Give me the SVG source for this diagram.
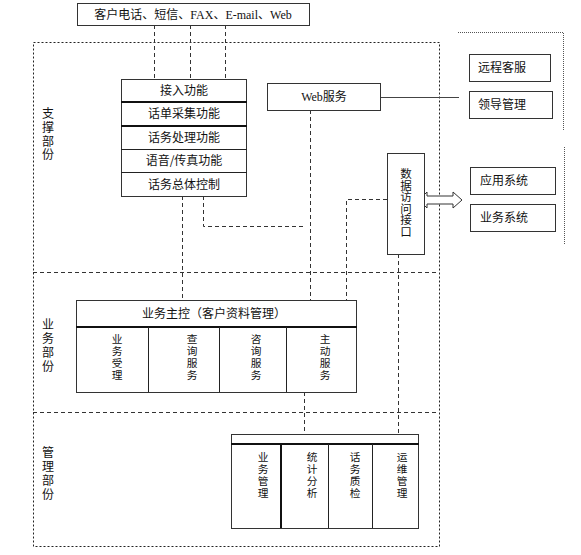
<svg xmlns="http://www.w3.org/2000/svg" width="581" height="555" viewBox="0 0 581 555">
<style>
text{font-family:"Noto Sans CJK SC","Liberation Sans",sans-serif;font-size:12px;fill:#111}
.s{font-family:"Liberation Serif","Noto Sans CJK SC",serif}
.c{text-anchor:middle}
.k{font-family:"Liberation Sans","Noto Sans CJK SC",sans-serif;text-anchor:middle}
.k2{font-family:"Liberation Sans","Noto Sans CJK SC",sans-serif;text-anchor:middle;font-size:11.5px}
.kc{font-family:"Liberation Sans","Noto Sans CJK SC",sans-serif;text-anchor:middle;font-size:10.7px}
.box{fill:#fff;stroke:#333;stroke-width:1}
.sep{stroke:#222;stroke-width:1}
.thick{stroke:#111;stroke-width:2}
.dash{fill:none;stroke:#333;stroke-width:1;stroke-dasharray:4,3}
.dot{fill:none;stroke:#222;stroke-width:1;stroke-dasharray:2,2}
.fdot{fill:none;stroke:#555;stroke-width:1;stroke-dasharray:1,1}
</style>
<g id="regions">
<rect class="dot" x="33.5" y="42.5" width="406" height="504"/>
<line class="dash" x1="33" y1="272.5" x2="439" y2="272.5"/>
<line class="dash" x1="33" y1="412.5" x2="439" y2="412.5"/>
<polyline class="fdot" points="458,32.5 563.5,32.5 563.5,131"/>
<line class="fdot" x1="564.5" y1="147" x2="564.5" y2="244"/>
<text class="k" x="48" y="118">支</text><text class="k" x="48" y="132">撑</text><text class="k" x="48" y="145.5">部</text><text class="k" x="48" y="159">份</text>
<text class="k" x="48" y="329">业</text><text class="k" x="48" y="343">务</text><text class="k" x="48" y="357">部</text><text class="k" x="48" y="371">份</text>
<text class="k" x="48" y="457">管</text><text class="k" x="48" y="471">理</text><text class="k" x="48" y="485">部</text><text class="k" x="48" y="499">份</text>
</g>
<g id="connectors">
<line class="dash" x1="154.5" y1="25" x2="154.5" y2="79"/>
<line class="dash" x1="190.5" y1="25" x2="190.5" y2="79"/>
<line class="dash" x1="225.5" y1="25" x2="225.5" y2="79"/>
<line x1="380" y1="97.5" x2="459" y2="97.5" stroke="#444" stroke-width="1"/>
<line class="dash" x1="310.5" y1="110" x2="310.5" y2="300"/>
<line class="dash" x1="182.5" y1="196" x2="182.5" y2="300"/>
<polyline class="dash" points="203.5,196 203.5,226.5 305,226.5"/>
<polyline class="dash" points="387,199.5 346.5,199.5 346.5,300"/>
<line class="dash" x1="398.5" y1="254" x2="398.5" y2="438"/>
<line class="dash" x1="304.5" y1="392" x2="304.5" y2="434"/>
<polygon points="419,200 427,192 427,196 453,196 453,192 462,200 453,208 453,204 427,204 427,208" fill="#fff" stroke="#333" stroke-width="1"/>
</g>
<g id="channels">
<rect class="box" x="77.5" y="3.5" width="232" height="22"/>
<text class="c s" x="193" y="19">客户电话、短信、FAX、E-mail、Web</text>
</g>
<g id="support-stack">
<rect class="box" x="121.5" y="79.5" width="125" height="117"/>
<line class="thick" x1="121" y1="102" x2="247" y2="102"/>
<line class="thick" x1="121" y1="126" x2="247" y2="126"/>
<line class="sep" x1="121" y1="149.5" x2="247" y2="149.5"/>
<line class="sep" x1="121" y1="172.5" x2="247" y2="172.5"/>
<text class="c" x="184" y="95">接入功能</text>
<text class="c" x="184" y="118">话单采集功能</text>
<text class="c" x="184" y="142">话务处理功能</text>
<text class="c" x="184" y="165">语音/传真功能</text>
<text class="c" x="184" y="189">话务总体控制</text>
</g>
<g id="web-service">
<rect class="box" x="267.5" y="83.5" width="113" height="27"/>
<text class="c s" x="324" y="101">Web服务</text>
</g>
<g id="remote-service">
<rect class="box" x="469.5" y="54.5" width="81" height="27"/>
<text x="478" y="72">远程客服</text>
</g>
<g id="leader-management">
<rect class="box" x="469.5" y="91.5" width="83" height="27"/>
<text x="478" y="109">领导管理</text>
</g>
<g id="app-system">
<rect class="box" x="470.5" y="167.5" width="85" height="27"/>
<text x="480" y="185">应用系统</text>
</g>
<g id="biz-system">
<rect class="box" x="470.5" y="204.5" width="85" height="27"/>
<text x="480" y="222">业务系统</text>
</g>
<g id="data-access">
<rect class="box" x="387.5" y="153.5" width="37" height="101"/>
<text class="k2" x="406" y="178">数</text><text class="k2" x="406" y="189.5">据</text><text class="k2" x="406" y="201">访</text><text class="k2" x="406" y="212.5">问</text><text class="k2" x="406" y="224">接</text><text class="k2" x="406" y="235.5">口</text>
</g>
<g id="business-main">
<rect class="box" x="76.5" y="300.5" width="280" height="92"/>
<line class="thick" x1="76" y1="327" x2="357" y2="327"/>
<line class="sep" x1="148.5" y1="327" x2="148.5" y2="392"/>
<line class="sep" x1="219.5" y1="327" x2="219.5" y2="392"/>
<line class="sep" x1="286.5" y1="327" x2="286.5" y2="392"/>
<text class="c" x="214" y="318">业务主控（客户资料管理）</text>
<text class="kc" x="117" y="343">业</text><text class="kc" x="117" y="355">务</text><text class="kc" x="117" y="367">受</text><text class="kc" x="117" y="379">理</text>
<text class="kc" x="192" y="343">查</text><text class="kc" x="192" y="355">询</text><text class="kc" x="192" y="367">服</text><text class="kc" x="192" y="379">务</text>
<text class="kc" x="256" y="343">咨</text><text class="kc" x="256" y="355">询</text><text class="kc" x="256" y="367">服</text><text class="kc" x="256" y="379">务</text>
<text class="kc" x="325" y="343">主</text><text class="kc" x="325" y="355">动</text><text class="kc" x="325" y="367">服</text><text class="kc" x="325" y="379">务</text>
</g>
<g id="management">
<rect class="box" x="231.5" y="434.5" width="187" height="94"/>
<line class="thick" x1="231" y1="444" x2="419" y2="444"/>
<line class="thick" x1="281" y1="444" x2="281" y2="528"/>
<line class="sep" x1="328.5" y1="444" x2="328.5" y2="528"/>
<line class="sep" x1="372.5" y1="444" x2="372.5" y2="528"/>
<text class="kc" x="263" y="461">业</text><text class="kc" x="263" y="473">务</text><text class="kc" x="263" y="485">管</text><text class="kc" x="263" y="497">理</text>
<text class="kc" x="312" y="461">统</text><text class="kc" x="312" y="473">计</text><text class="kc" x="312" y="485">分</text><text class="kc" x="312" y="497">析</text>
<text class="kc" x="355" y="461">话</text><text class="kc" x="355" y="473">务</text><text class="kc" x="355" y="485">质</text><text class="kc" x="355" y="497">检</text>
<text class="kc" x="402" y="461">运</text><text class="kc" x="402" y="473">维</text><text class="kc" x="402" y="485">管</text><text class="kc" x="402" y="497">理</text>
</g>
</svg>
